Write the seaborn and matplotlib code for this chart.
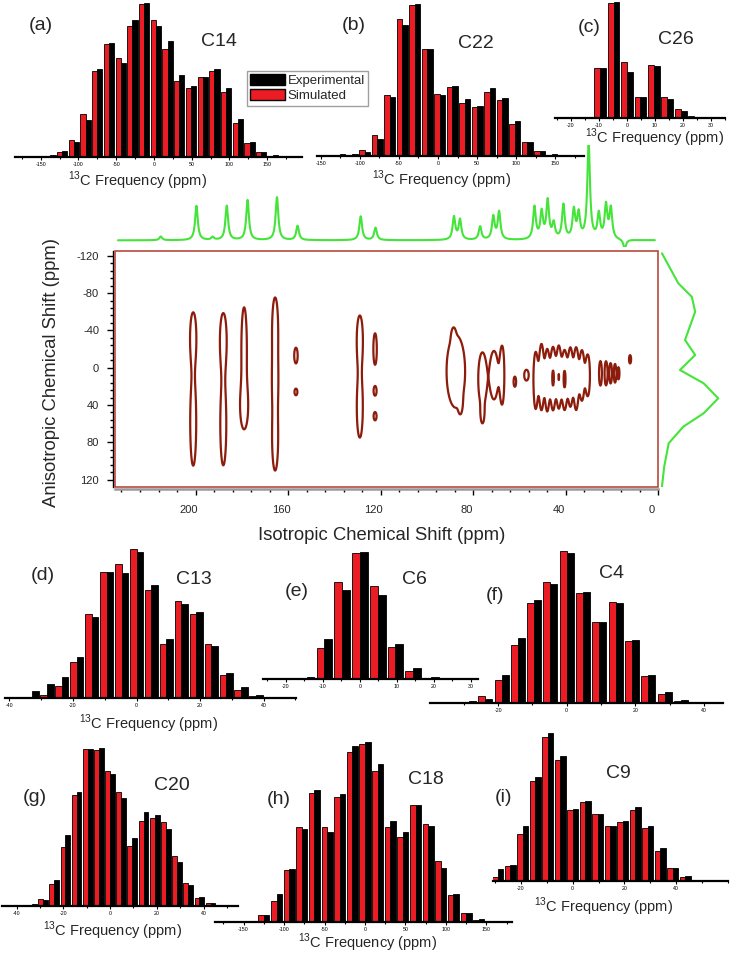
import numpy as np
import pandas as pd
import matplotlib
matplotlib.use("Agg")
import matplotlib.pyplot as plt
import matplotlib.transforms as mtransforms
from matplotlib.patches import Patch, Rectangle
from matplotlib.ticker import MultipleLocator, FixedLocator
import seaborn as sns

sns.set_style("white")
plt.rcParams["font.family"] = ["Liberation Sans", "DejaVu Sans"]
plt.rcParams["mathtext.fontset"] = "custom"
plt.rcParams["mathtext.rm"] = "Liberation Sans"
plt.rcParams["axes.unicode_minus"] = False

W, H = 732, 956
RED = "#ec1c24"
GREEN = "#45e43a"
BROWN = "#8c1c0c"

# ---- 13C frequency histograms (normalised intensity) ----
a_ppm = [-168, -152.5, -137, -121.5, -106, -90.5, -75, -59.5, -44, -28.5, -13, 2.5,
         18, 33.5, 49, 64.5, 80, 95.5, 111, 126.5, 142, 157.5, 173]
a_sim = [0, 0, 0.005, 0.032, 0.11, 0.28, 0.56, 0.73, 0.64, 0.85, 0.99, 0.89,
         0.70, 0.495, 0.45, 0.52, 0.56, 0.42, 0.22, 0.09, 0.03, 0.005, 0]
a_exp = [0.002, 0.004, 0.01, 0.037, 0.10, 0.24, 0.57, 0.74, 0.61, 0.89, 1.0, 0.85,
         0.75, 0.53, 0.46, 0.52, 0.57, 0.445, 0.247, 0.095, 0.035, 0.01, 0.004]

b_ppm = [-158, -142, -126, -110, -94, -78, -62, -46, -30, -14, 2, 18, 34, 50, 66,
         82, 98, 114, 130, 146, 162, 178]
b_sim = [0, 0.003, 0.005, 0.008, 0.04, 0.14, 0.40, 0.90, 0.99, 0.70, 0.41, 0.455,
         0.35, 0.325, 0.42, 0.37, 0.21, 0.094, 0.03, 0.008, 0.003, 0]
b_exp = [0.002, 0.005, 0.01, 0.012, 0.025, 0.11, 0.39, 0.86, 1.0, 0.70, 0.40, 0.46,
         0.375, 0.33, 0.445, 0.38, 0.23, 0.094, 0.035, 0.012, 0.005, 0.002]

c_ppm = [-24, -19.2, -14.4, -9.6, -4.8, 0, 4.8, 9.6, 14.4, 19.2, 24, 28.8, 33.6]
c_sim = [0, 0, 0.01, 0.43, 0.995, 0.48, 0.185, 0.457, 0.18, 0.077, 0.017, 0.003, 0]
c_exp = [0.002, 0.002, 0.008, 0.43, 1.0, 0.395, 0.18, 0.45, 0.165, 0.063, 0.01, 0.003, 0.002]

d_ppm = [-37.6, -32.9, -28.2, -23.5, -18.8, -14.1, -9.4, -4.7, 0, 4.7, 9.4, 14.1,
         18.8, 23.5, 28.2, 32.9, 37.6, 42.3]
d_sim = [0, 0, 0.02, 0.082, 0.244, 0.562, 0.844, 0.90, 1.0, 0.722, 0.362, 0.649,
         0.562, 0.36, 0.156, 0.051, 0.011, 0]
d_exp = [0.003, 0.044, 0.093, 0.144, 0.278, 0.544, 0.844, 0.838, 0.978, 0.76, 0.396,
         0.633, 0.573, 0.351, 0.167, 0.071, 0.022, 0.005]

e_ppm = [-24, -19.2, -14.4, -9.6, -4.8, 0, 4.8, 9.6, 14.4, 19.2, 24, 28.8]
e_sim = [0, 0, 0.005, 0.247, 0.761, 0.99, 0.73, 0.255, 0.06, 0.005, 0, 0]
e_exp = [0.002, 0.002, 0.018, 0.312, 0.696, 1.0, 0.657, 0.273, 0.088, 0.018, 0.002, 0.002]

f_ppm = [-38, -33.3, -28.6, -23.8, -19, -14.3, -9.5, -4.8, 0, 4.8, 9.5, 14.3, 19,
         23.8, 28.6, 33.3, 38, 42.8]
f_sim = [0, 0, 0.005, 0.046, 0.148, 0.384, 0.655, 0.797, 0.996, 0.723, 0.535, 0.662,
         0.404, 0.175, 0.057, 0.013, 0.004, 0.002]
f_exp = [0.002, 0.004, 0.012, 0.028, 0.181, 0.424, 0.677, 0.782, 0.987, 0.731, 0.535,
         0.655, 0.415, 0.181, 0.072, 0.017, 0.004, 0.002]

g_ppm = [-43, -38.2, -33.4, -28.6, -23.9, -19.1, -14.3, -9.5, -4.8, 0, 4.8, 9.5,
         14.3, 19.1, 23.9, 28.6, 33.4, 38.2, 43, 47.7]
g_sim = [0, 0, 0.003, 0.044, 0.137, 0.377, 0.705, 0.994, 0.989, 0.857, 0.72, 0.383,
         0.541, 0.558, 0.53, 0.316, 0.148, 0.053, 0.019, 0.005]
g_exp = [0.002, 0.003, 0.015, 0.036, 0.162, 0.45, 0.72, 0.996, 1.0, 0.836, 0.682,
         0.432, 0.593, 0.579, 0.489, 0.278, 0.131, 0.057, 0.019, 0.006]

h_ppm = [-171.6, -156, -140.4, -124.8, -109.2, -93.6, -78, -62.4, -46.8, -31.2,
         -15.6, 0, 15.6, 31.2, 46.8, 62.4, 78, 93.6, 109.2, 124.8, 140.4, 156, 171.6]
h_sim = [0, 0, 0.006, 0.037, 0.115, 0.286, 0.526, 0.719, 0.526, 0.696, 0.946, 0.987,
         0.84, 0.53, 0.47, 0.649, 0.544, 0.341, 0.151, 0.05, 0.013, 0.003, 0]
h_exp = [0.002, 0.003, 0.008, 0.04, 0.157, 0.292, 0.516, 0.732, 0.498, 0.71, 0.978,
         1.0, 0.88, 0.563, 0.498, 0.649, 0.535, 0.30, 0.153, 0.05, 0.018, 0.006, 0.002]

i_ppm = [-33.8, -29, -24.2, -19.3, -14.5, -9.7, -4.8, 0, 4.8, 9.7, 14.5, 19.3, 24.2,
         29, 33.8, 38.6, 43.5, 48.3, 53.1]
i_sim = [0.003, 0.029, 0.10, 0.314, 0.675, 0.97, 0.818, 0.482, 0.533, 0.449, 0.37,
         0.395, 0.482, 0.358, 0.204, 0.085, 0.029, 0.005, 0.002]
i_exp = [0.004, 0.079, 0.108, 0.37, 0.70, 1.0, 0.84, 0.484, 0.54, 0.449, 0.37, 0.405,
         0.496, 0.37, 0.224, 0.089, 0.034, 0.007, 0.002]

# ---- isotropic 1D spectrum: peak positions (ppm) and heights ----
peak_iso = [215, 192.6, 199.6, 186.5, 177.5, 164.8, 155.9, 128.6, 122.2, 88.3, 85.7,
            77.0, 71.3, 68.8, 53.5, 50.4, 47.8, 45.2, 41.0, 36.5, 34.4, 30.1, 25.7,
            22.6, 20.5, 14.5]
peak_height = [0.04, 0.03, 0.36, 0.36, 0.42, 0.45, 0.15, 0.25, 0.13, 0.24, 0.21, 0.14,
               0.24, 0.29, 0.34, 0.28, 0.40, 0.16, 0.36, 0.30, 0.26, 1.0, 0.26, 0.35,
               0.32, -0.10]

# ---- anisotropic projection (right side) ----
proj_ppm = [-122.6, -90.5, -76, -60, -29.7, -13.6, 2.5, 16.7, 32.8, 48.9, 63.2, 81, 106, 127.5]
proj_int = [0, 0.29, 0.53, 0.59, 0.41, 0.59, 0.32, 0.74, 1.0, 0.74, 0.38, 0.12, 0.04, 0.0]

# ---- 2D peak components: iso shift, iso width, aniso centre, aniso width, amplitude ----
comp_iso = [201, 201, 188, 188, 179, 179, 165.6, 165.6, 165.6, 156.6, 156.6, 129, 129,
            122.4, 122.4, 122.4, 87.5, 88.5, 85.5, 76, 71, 67.5, 76, 62,
            53, 50.5, 48, 45.5, 43, 40.5, 38, 35.5, 33, 30.5, 42, 57,
            25, 22.6, 20.6, 18.7, 17.2, 12.2]
comp_wiso = [1.1, 1.1, 1.2, 1.1, 1.0, 1.5, 1.1, 1.1, 1.1, 0.7, 0.7, 1.1, 1.1,
             0.7, 0.7, 0.7, 3.4, 0.6, 0.6, 1.5, 1.5, 0.8, 0.6, 0.6,
             0.8, 0.8, 0.8, 0.8, 0.8, 0.8, 0.8, 0.8, 0.8, 0.8, 7.0, 1.0,
             0.6, 0.6, 0.6, 0.5, 0.5, 0.5]
comp_aniso = [-33, 58, -30, 60, -20, 42, -40, 15, 75, -13, 26, -30, 42,
              -20, 25, 52, 4, -32, 38, 12, 8, 8, 50, 15,
              14, 10, 14, 12, 10, 14, 10, 12, 8, 8, 10, 8,
              6, 6, 6, 6, 6, -9]
comp_waniso = [22, 40, 24, 38, 38, 20, 30, 22, 30, 8, 4, 22, 28,
               16, 5.5, 5, 33, 7, 8, 24, 22, 26, 8, 6,
               28, 30, 30, 28, 30, 26, 28, 28, 24, 20, 16, 6,
               13, 13, 12, 11, 8, 5]
comp_amp = [0.8, 0.8, 0.8, 0.8, 0.8, 0.7, 0.8, 0.65, 0.8, 0.7, 0.6, 0.8, 0.8,
            0.7, 0.6, 0.6, 0.8, 0.45, 0.45, 0.8, 0.8, 0.8, 0.6, 0.6,
            0.7, 0.78, 0.7, 0.78, 0.7, 0.78, 0.7, 0.78, 0.7, 0.7, 0.25, 0.6,
            0.65, 0.65, 0.6, 0.6, 0.55, 0.6]
contour_levels = [0.4, 0.95]

fig = plt.figure(figsize=(W / 100, H / 100), dpi=100)


def px_axes(left, right, bottom, top):
    return fig.add_axes([left / W, 1 - bottom / H, (right - left) / W, (bottom - top) / H])


def hist_panel(box, ppm, sim, exp, xlim, majors, minor):
    ax = px_axes(*box)
    ax.patch.set_alpha(0)
    df = pd.DataFrame({"ppm": ppm + ppm, "intensity": sim + exp,
                       "series": ["Simulated"] * len(ppm) + ["Experimental"] * len(ppm)})
    sns.barplot(data=df, x="ppm", y="intensity", hue="series",
                hue_order=["Simulated", "Experimental"], palette=[RED, "black"],
                saturation=1, native_scale=True, width=0.88, errorbar=None,
                edgecolor="black", linewidth=0.6, legend=False, ax=ax)
    ax.set_xlim(*xlim)
    ax.set_ylim(0, 1.005)
    ax.set_xlabel("")
    ax.set_ylabel("")
    for s in ["top", "right", "left"]:
        ax.spines[s].set_visible(False)
    ax.spines["bottom"].set_linewidth(1.6)
    ax.spines["bottom"].set_color("black")
    ax.xaxis.set_major_locator(FixedLocator(majors))
    ax.xaxis.set_minor_locator(MultipleLocator(minor))
    ax.set_xticklabels([str(m) for m in majors])
    ax.tick_params(axis="x", which="both", bottom=True, direction="out",
                   width=0.8, labelsize=3.8, pad=1, colors="black")
    ax.tick_params(axis="x", which="major", length=2.5)
    ax.tick_params(axis="x", which="minor", length=1.5)
    ax.tick_params(axis="y", left=False, labelleft=False)
    return ax


big = [-150, -100, -50, 0, 50, 100, 150]
hist_panel((15, 302, 157, 2), a_ppm, a_sim, a_exp, (-184, 196), big, 25)
hist_panel((317, 584, 156, 3), b_ppm, b_sim, b_exp, (-155, 187), big, 25)
hist_panel((555, 725, 118, 1.7), c_ppm, c_sim, c_exp, (-25.7, 35), [-20, -10, 0, 10, 20, 30], 5)
hist_panel((5, 296, 698, 548), d_ppm, d_sim, d_exp, (-41.4, 50.2), [-40, -20, 0, 20, 40], 10)
hist_panel((263, 478, 679, 551), e_ppm, e_sim, e_exp, (-26.2, 31.9), [-20, -10, 0, 10, 20, 30], 5)
hist_panel((430, 723, 703, 550), f_ppm, f_sim, f_exp, (-39.9, 45.6), [-40, -20, 0, 20, 40], 10)
hist_panel((2, 238, 906, 747.5), g_ppm, g_sim, g_exp, (-46.2, 54.7), [-40, -20, 0, 20, 40], 10)
hist_panel((215, 512, 922, 741), h_ppm, h_sim, h_exp, (-185.2, 181.5), big, 25)
hist_panel((493, 728, 881, 732), i_ppm, i_sim, i_exp, (-30.8, 60), [-20, 0, 20, 40], 10)

# ---- 2D contour map ----
ax2 = px_axes(115, 658.3, 487, 251)
iso_grid = np.linspace(0, 236, 1181)
aniso_grid = np.linspace(-127, 130, 258)
X, Y = np.meshgrid(iso_grid, aniso_grid)
Z = np.zeros_like(X)
for c, sx, yc, sy, a in zip(comp_iso, comp_wiso, comp_aniso, comp_waniso, comp_amp):
    Z += a * np.exp(-(X - c) ** 2 / (2 * sx ** 2) - (Y - yc) ** 2 / (2 * sy ** 2))
ax2.contour(X, Y, Z, levels=contour_levels, colors=BROWN, linewidths=1.6)
ax2.set_xlim(234.8, 0)
ax2.set_ylim(127.9, -125.1)
ax2.add_patch(Rectangle((0, 0), 1, 1, transform=ax2.transAxes, fill=False,
                        edgecolor="#b3392c", linewidth=1.1, clip_on=False, zorder=5))
for s in ["top", "right"]:
    ax2.spines[s].set_visible(False)
ax2.spines["left"].set_position(("outward", 1.5))
ax2.spines["left"].set_color("black")
ax2.spines["left"].set_linewidth(1.0)
ax2.spines["bottom"].set_position(("outward", 1.2))
ax2.spines["bottom"].set_color("#9a9a9a")
ax2.spines["bottom"].set_linewidth(1.8)
ax2.xaxis.set_major_locator(FixedLocator([0, 40, 80, 120, 160, 200]))
ax2.xaxis.set_minor_locator(MultipleLocator(8))
ax2.yaxis.set_major_locator(FixedLocator([-120, -80, -40, 0, 40, 80, 120]))
ax2.yaxis.set_minor_locator(MultipleLocator(8))
ax2.tick_params(which="both", direction="out", bottom=True, left=True,
                color="black", width=1.0, labelsize=8)
ax2.tick_params(which="major", length=4)
ax2.tick_params(which="minor", length=2.5)
ax2.tick_params(axis="x", pad=8)
ax2.tick_params(axis="y", pad=6)
shift = mtransforms.ScaledTranslation(-0.07, 0, fig.dpi_scale_trans)
for lbl in ax2.get_xticklabels():
    lbl.set_transform(lbl.get_transform() + shift)

fig.text(382 / W, 1 - 535 / H, "Isotropic Chemical Shift (ppm)", ha="center",
         va="center", fontsize=13.3)
fig.text(52 / W, 1 - 372 / H, "Anisotropic Chemical Shift (ppm)", ha="center",
         va="center", rotation=90, fontsize=13.3)

# ---- isotropic projection (top) ----
ax_top = px_axes(115, 658.3, 247, 145)
iso_axis = np.linspace(1.5, 233.5, 2321)
spec = np.zeros_like(iso_axis)
for c, hgt in zip(peak_iso, peak_height):
    spec += hgt / (1 + ((iso_axis - c) / 0.7) ** 2)
sns.lineplot(x=iso_axis, y=spec, estimator=None, sort=False, ax=ax_top,
             color=GREEN, linewidth=1.5)
ax_top.set_xlim(234.8, 0)
ax_top.set_ylim(-0.07, 1.0)
ax_top.axis("off")

# ---- anisotropic projection (right) ----
ax_r = px_axes(658.3, 725, 487, 251)
sns.lineplot(x=proj_int, y=proj_ppm, estimator=None, sort=False, ax=ax_r,
             color=GREEN, linewidth=1.5)
ax_r.set_ylim(127.9, -125.1)
ax_r.set_xlim(-0.065, 1.12)
ax_r.axis("off")

# ---- legend ----
handles = [Patch(facecolor="black", edgecolor="black"),
           Patch(facecolor=RED, edgecolor="black")]
fig.legend(handles, ["Experimental", "Simulated"], loc="upper left",
           bbox_to_anchor=(247 / W, 1 - 71 / H), frameon=True, fancybox=False,
           edgecolor="#888888", fontsize=9.5, borderpad=0.25, handlelength=2.6,
           handleheight=0.9, handletextpad=0.25, labelspacing=0.15, borderaxespad=0)

# ---- panel labels ----
freq = "$^{13}$C Frequency (ppm)"
labels = [("(a)", 41, 26), ("C14", 219, 42), (freq, 138, 181),
          ("(b)", 354, 26), ("C22", 476, 43), (freq, 442, 180),
          ("(c)", 589, 27), ("C26", 676, 40), (freq, 655, 138),
          ("(d)", 43, 576), ("C13", 194, 579), (freq, 149, 724),
          ("(e)", 297, 591), ("C6", 414.5, 579),
          ("(f)", 495, 596), ("C4", 612, 574),
          ("(g)", 35, 797), ("C20", 172, 786), (freq, 113, 931),
          ("(h)", 279, 800), ("C18", 426, 780), (freq, 368, 943),
          ("(i)", 504, 798), ("C9", 618, 774), (freq, 604, 907)]
for txt, x, y in labels:
    fs = 10.5 if txt == freq else 14
    fig.text(x / W, 1 - y / H, txt, ha="center", va="center", fontsize=fs)

fig.savefig("out.png", dpi=100)
